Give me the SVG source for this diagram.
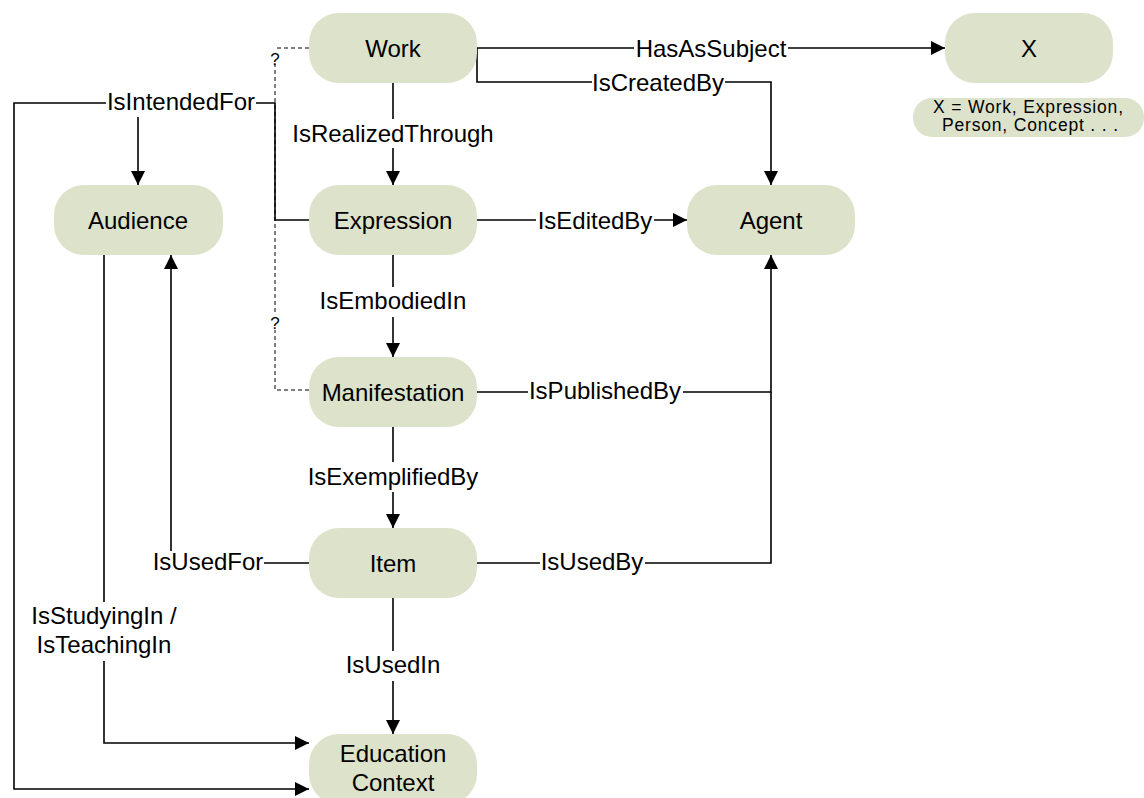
<svg xmlns="http://www.w3.org/2000/svg" width="1144" height="798" viewBox="0 0 1144 798">
<style>
.node{fill:#dde2cb;}
.nt{font-family:"Liberation Sans",Arial,sans-serif;font-size:24px;fill:#000;text-anchor:middle;}
.lt{font-family:"Liberation Sans",Arial,sans-serif;font-size:24px;fill:#000;text-anchor:middle;}
.ct{font-family:"Liberation Sans",Arial,sans-serif;font-size:17.5px;fill:#000;text-anchor:middle;}
.q{font-family:"Liberation Sans",Arial,sans-serif;font-size:17px;fill:#000;text-anchor:middle;}
.ln{fill:none;stroke:#000;stroke-width:1.6;}
.arr{marker-end:url(#ah);}
.dash{fill:none;stroke:#000;stroke-width:1;stroke-dasharray:4,3;}
.bg{fill:#fff;}
</style>
<defs>
<marker id="ah" markerUnits="userSpaceOnUse" markerWidth="15" markerHeight="14" refX="14" refY="7" orient="auto">
<path d="M0,0 L14,7 L0,14 z" fill="#000"/>
</marker>
</defs>
<rect width="1144" height="798" fill="#fff"/>
<g id="connectors">
<path class="ln arr" d="M477,48 H945"/>
<path class="ln arr" d="M477,48 V82 H771 V185"/>
<path class="ln arr" d="M393,83 V185"/>
<path class="ln arr" d="M309,220 H275 V103 H14 V789 H309"/>
<path class="ln arr" d="M138,103 V185"/>
<path class="ln arr" d="M477,220 H687"/>
<path class="ln arr" d="M393,255 V357"/>
<path class="ln arr" d="M477,392 H771 V255"/>
<path class="ln" d="M477,563 H771 V392"/>
<path class="ln arr" d="M393,427 V528"/>
<path class="ln arr" d="M309,563 H171 V255"/>
<path class="ln arr" d="M104,255 V743 H309"/>
<path class="ln arr" d="M393,598 V734"/>
<path class="dash" d="M309,48 H275 V390 H309"/>
<rect class="bg" x="268" y="49" width="15" height="15"/>
<text class="q" x="275" y="65">?</text>
<rect class="bg" x="268" y="312" width="15" height="18"/>
<text class="q" x="275" y="329">?</text>
<rect class="bg" x="634" y="36" width="154" height="26"/>
<text class="lt" x="711" y="57">HasAsSubject</text>
<rect class="bg" x="592" y="70" width="133" height="26"/>
<text class="lt" x="658" y="91">IsCreatedBy</text>
<rect class="bg" x="291" y="119" width="204" height="29"/>
<text class="lt" x="393" y="142">IsRealizedThrough</text>
<rect class="bg" x="106" y="92" width="150" height="25"/>
<text class="lt" x="181" y="110">IsIntendedFor</text>
<rect class="bg" x="536" y="208" width="118" height="26"/>
<text class="lt" x="595" y="229">IsEditedBy</text>
<rect class="bg" x="318" y="287" width="150" height="30"/>
<text class="lt" x="393" y="309">IsEmbodiedIn</text>
<rect class="bg" x="528" y="380" width="155" height="26"/>
<text class="lt" x="605" y="399">IsPublishedBy</text>
<rect class="bg" x="307" y="462" width="173" height="30"/>
<text class="lt" x="393" y="485">IsExemplifiedBy</text>
<rect class="bg" x="152" y="551" width="112" height="26"/>
<text class="lt" x="208" y="570">IsUsedFor</text>
<rect class="bg" x="540" y="551" width="105" height="26"/>
<text class="lt" x="592" y="570">IsUsedBy</text>
<rect class="bg" x="29" y="602" width="150" height="59"/>
<text class="lt" x="104" y="624">IsStudyingIn /</text>
<text class="lt" x="104" y="653">IsTeachingIn</text>
<rect class="bg" x="344" y="651" width="98" height="30"/>
<text class="lt" x="393" y="673">IsUsedIn</text>
</g>
<g id="work"><rect class="node" x="309" y="13" width="168" height="70" rx="30"/><text class="nt" x="393" y="57">Work</text></g>
<g id="x"><rect class="node" x="945" y="13" width="168" height="70" rx="30"/><text class="nt" x="1029" y="57">X</text></g>
<g id="x-caption"><rect class="node" x="913" y="98" width="231" height="39" rx="19"/><text class="ct" x="1028" y="113" textLength="190" lengthAdjust="spacing">X = Work, Expression,</text><text class="ct" x="1030" y="131" textLength="176" lengthAdjust="spacing">Person, Concept . . .</text></g>
<g id="expression"><rect class="node" x="309" y="185" width="168" height="70" rx="30"/><text class="nt" x="393" y="229">Expression</text></g>
<g id="audience"><rect class="node" x="54" y="185" width="169" height="70" rx="30"/><text class="nt" x="138" y="229">Audience</text></g>
<g id="agent"><rect class="node" x="687" y="185" width="168" height="70" rx="30"/><text class="nt" x="771" y="229">Agent</text></g>
<g id="manifestation"><rect class="node" x="309" y="357" width="168" height="70" rx="30"/><text class="nt" x="393" y="401">Manifestation</text></g>
<g id="item"><rect class="node" x="309" y="528" width="168" height="70" rx="30"/><text class="nt" x="393" y="572">Item</text></g>
<g id="education-context"><rect class="node" x="309" y="734" width="168" height="70" rx="30"/><text class="nt" x="393" y="762">Education</text><text class="nt" x="393" y="791">Context</text></g>
</svg>
